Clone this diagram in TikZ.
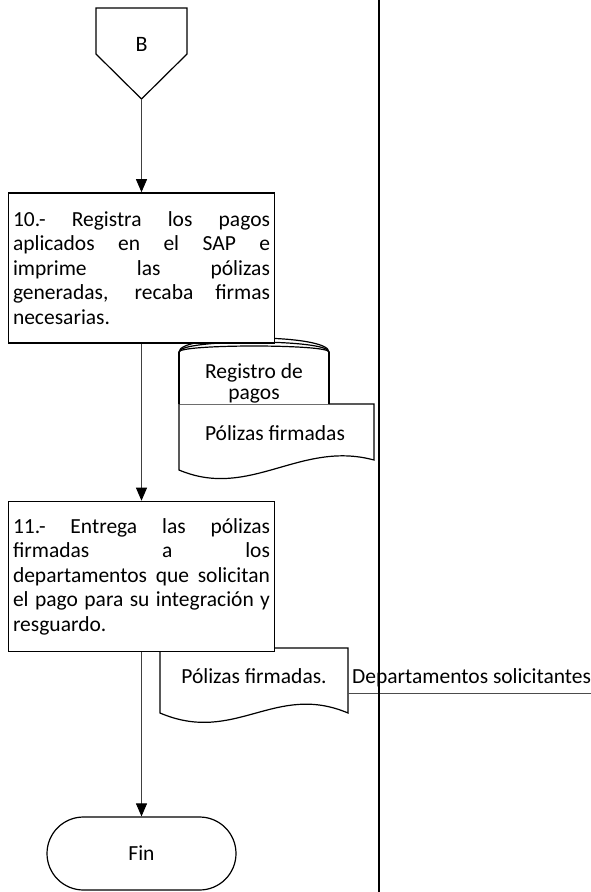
\documentclass[tikz,border=0pt]{standalone}
\usepackage{fontspec}
\setmainfont{Carlito}
\usetikzlibrary{arrows.meta}
\begin{document}
\begin{tikzpicture}[x=1pt,y=-1pt,
  conn/.style={draw=black!75, line width=0.9pt, -{Triangle[length=13pt,width=11pt,color=black]}},
  procbox/.style={draw, line width=1.6pt, fill=white, minimum width=266pt, minimum height=150pt,
    text width=257pt, inner xsep=4.5pt, inner ysep=0pt, align=justify, font=\fontsize{21.5}{24.5}\selectfont},
  shapeline/.style={line width=1.2pt},
  lbl/.style={font=\fontsize{21.5}{22}\selectfont, inner sep=0pt},
  thinline/.style={draw=black!70, line width=0.8pt},
]
\useasboundingbox (0,0) rectangle (591,892);

% off-page connector B
\draw[shapeline, fill=white] (96,8) -- (187,8) -- (187,54) -- (141.5,99) -- (96,54) -- cycle;
\node[lbl, font=\fontsize{22}{22}\selectfont] (B) at (141.5,44) {B};
\coordinate (Btip) at (141.5,99);

% document 1 (Polizas firmadas)
\draw[shapeline, fill=white] (179,404) -- (374,404) -- (374,460)
  .. controls (300,440) and (250,500) .. (179,470) -- cycle;
\node[lbl, anchor=base] (doc1) at (275,440) {Pólizas firmadas};

% data store (Registro de pagos)
\fill[white] (179,352) .. controls (179,333.3) and (329,333.3) .. (329,352) -- (329,404) -- (179,404) -- cycle;
\draw[shapeline] (179,352) -- (179,404);
\draw[shapeline] (329,352) -- (329,404);
\draw[shapeline] (179,352) .. controls (179,333.3) and (329,333.3) .. (329,352);
\draw[shapeline] (179,352) .. controls (179,338.7) and (329,338.7) .. (329,352);
\draw[shapeline] (179,352) .. controls (179,344) and (329,344) .. (329,352);
\node[lbl, anchor=base] (reg1) at (254,378) {Registro de};
\node[lbl, anchor=base] (reg2) at (254,399) {pagos};

% process 10
\node[procbox] (p10) at (141.5,268) {10.- Registra los pagos\linebreak aplicados en el SAP e\linebreak imprime las pólizas\linebreak generadas, recaba firmas\linebreak necesarias.};

% document 2
\draw[shapeline, fill=white] (160,648) -- (348,648) -- (348,713)
  .. controls (275,682) and (235,745) .. (160,713) -- cycle;
\node[lbl, anchor=base] (doc2) at (254,683) {Pólizas firmadas.};

% process 11
\node[procbox] (p11) at (141.5,576.5) {11.- Entrega las pólizas\linebreak firmadas a los\linebreak departamentos que solicitan\linebreak el pago para su integración y\linebreak resguardo.};

% terminal Fin
\node[draw, shapeline, fill=white, rounded corners=36.5pt, minimum width=189pt, minimum height=73pt,
  inner sep=0pt, font=\fontsize{21.5}{22}\selectfont] (fin) at (141.5,853.5) {Fin};

% annotation
\node[lbl, anchor=base west] (dep) at (352,683) {Departamentos solicitantes};
\coordinate (annL) at (348,693);
\coordinate (annR) at (591,693);
\draw[thinline] (annL) -- (annR);

% lane separator
\draw[line width=2.4pt] (379,0) -- (379,892);

% connectors
\draw[conn] (Btip) -- (p10);
\draw[conn] (p10) -- (p11);
\draw[conn] (p11) -- (fin);
\end{tikzpicture}
\end{document}
